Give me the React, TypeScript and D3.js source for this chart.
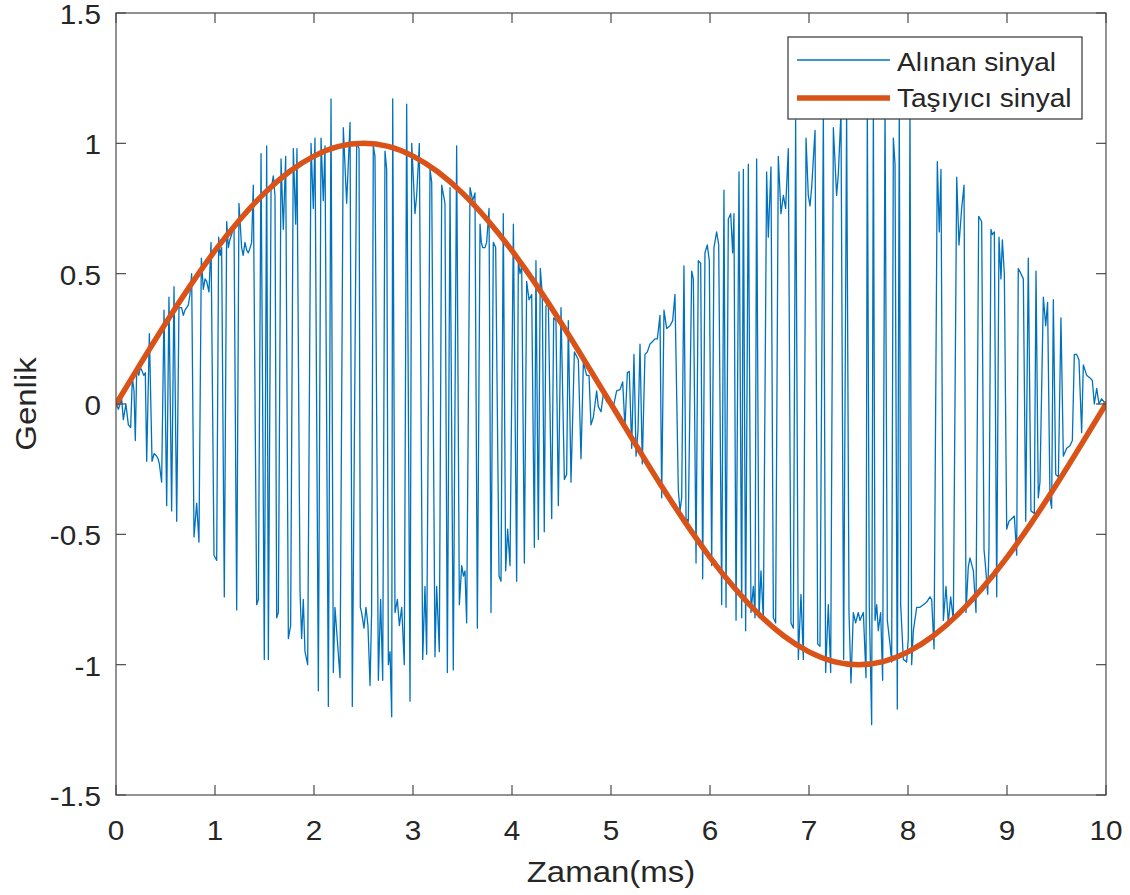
import React from 'react';
import * as d3 from 'd3';

// ---------- data ----------
const xTicks = [0, 1, 2, 3, 4, 5, 6, 7, 8, 9, 10];
const yTicks = [-1.5, -1, -0.5, 0, 0.5, 1, 1.5];
const yTickLabels = ['-1.5', '-1', '-0.5', '0', '0.5', '1', '1.5'];

const carrierTime = [
  0, 0.25, 0.5, 0.75, 1, 1.25, 1.5, 1.75, 2, 2.25, 2.5, 2.75, 3, 3.25, 3.5, 3.75, 4, 4.25, 4.5, 4.75, 5,
  5.25, 5.5, 5.75, 6, 6.25, 6.5, 6.75, 7, 7.25, 7.5, 7.75, 8, 8.25, 8.5, 8.75, 9, 9.25, 9.5, 9.75, 10,
];
const carrierAmp = [
  0, 0.156, 0.309, 0.454, 0.588, 0.707, 0.809, 0.891, 0.951, 0.988, 1.0, 0.988, 0.951, 0.891, 0.809, 0.707,
  0.588, 0.454, 0.309, 0.156, 0, -0.156, -0.309, -0.454, -0.588, -0.707, -0.809, -0.891, -0.951, -0.988, -1.0,
  -0.988, -0.951, -0.891, -0.809, -0.707, -0.588, -0.454, -0.309, -0.156, 0,
];

const receivedSignal: [number, number][] = [
  [0, 0], [0.024, -0.02], [0.057, 0.02], [0.074, -0.06], [0.1, 0.0], [0.125, -0.08], [0.148, -0.09], [0.165, 0.1],
  [0.182, 0.05], [0.195, -0.14], [0.209, 0.13], [0.23, 0.11], [0.245, 0.14], [0.259, 0.13], [0.28, 0.11], [0.296, 0.12],
  [0.31, -0.22], [0.337, 0.27], [0.364, -0.22], [0.385, -0.19], [0.41, -0.2], [0.425, -0.21], [0.438, -0.23],
  [0.461, -0.3], [0.485, 0.36], [0.512, -0.39], [0.535, 0.41], [0.562, -0.41], [0.586, 0.45], [0.613, -0.45],
  [0.636, 0.37], [0.663, 0.37], [0.68, 0.34], [0.697, 0.36], [0.731, 0.38], [0.747, 0.42], [0.764, 0.5],
  [0.788, -0.51], [0.815, -0.38], [0.838, -0.53], [0.862, 0.56], [0.882, 0.44], [0.9, 0.48], [0.916, 0.47],
  [0.939, 0.43], [0.96, 0.62], [0.99, -0.58], [1.017, -0.6], [1.037, 0.64], [1.052, 0.57], [1.067, 0.6],
  [1.094, -0.74], [1.118, 0.7], [1.135, 0.6], [1.15, 0.63], [1.168, 0.65], [1.192, 0.69],
  [1.219, -0.79], [1.242, 0.77], [1.269, 0.6], [1.285, 0.57], [1.303, 0.62], [1.32, 0.59], [1.337, 0.58],
  [1.355, 0.6], [1.37, 0.62], [1.387, 0.84], [1.421, -0.77], [1.438, -0.75], [1.465, 0.96], [1.498, -0.98],
  [1.522, 0.99], [1.539, -0.98], [1.566, 0.82], [1.589, 0.875], [1.606, 0.8], [1.623, -0.82], [1.64, -0.8],
  [1.667, 0.94], [1.69, 0.67], [1.714, 0.95], [1.741, -0.9], [1.764, -0.85], [1.791, 0.98], [1.815, 0.69],
  [1.828, 0.98], [1.859, -0.72], [1.875, -0.9], [1.892, -0.75], [1.909, -0.95], [1.936, -1.0], [1.97, 1.0],
  [1.993, 0.75], [2.01, 1.02], [2.044, -1.1], [2.071, 1.02], [2.094, 0.78], [2.111, 0.99], [2.145, -1.16],
  [2.172, 1.17], [2.195, -1.03], [2.212, -0.78], [2.229, -0.87], [2.263, -1.05], [2.296, 1.06], [2.33, 0.77],
  [2.364, 1.08], [2.387, -1.16], [2.431, 1.0], [2.455, 0.98], [2.468, -0.78],
  [2.481, -0.8], [2.505, -0.86], [2.525, -0.78], [2.545, -0.85], [2.566, -1.08], [2.582, -0.8], [2.599, 0.99],
  [2.616, 0.95], [2.65, -1.06], [2.673, -0.75], [2.694, -1.06], [2.717, 0.97], [2.734, 0.9], [2.751, -1.0],
  [2.768, -0.95], [2.785, -1.2], [2.795, 1.17], [2.818, -0.8], [2.842, -0.75], [2.862, -0.85], [2.886, -0.78],
  [2.912, -1.0], [2.936, 1.15], [2.97, -1.14], [2.987, 1.0], [3.02, 0.73], [3.037, 0.8], [3.064, 1.0],
  [3.098, -0.98], [3.121, -0.7], [3.138, -0.96], [3.172, 0.9], [3.189, 0.85], [3.222, -0.97], [3.239, -0.7],
  [3.266, -0.95], [3.29, 0.84], [3.323, 0.77], [3.347, -1.03], [3.374, 0.83], [3.407, -1.02], [3.441, 0.99],
  [3.468, -0.77], [3.492, -0.62], [3.51, -0.66], [3.525, -0.64], [3.542, -0.84], [3.576, 0.83], [3.603, 0.78],
  [3.626, 0.81], [3.65, -0.86], [3.677, 0.69], [3.69, 0.62], [3.704, 0.6],
  [3.727, 0.6], [3.744, 0.62], [3.768, 0.75], [3.788, -0.8], [3.811, 0.62], [3.835, 0.6], [3.869, -0.66],
  [3.889, -0.68], [3.912, 0.73], [3.936, -0.64], [3.956, -0.48], [3.98, -0.62], [4.014, 0.69], [4.047, -0.68],
  [4.064, 0.55], [4.081, 0.5], [4.098, 0.53], [4.125, -0.61], [4.148, 0.47], [4.172, 0.4], [4.199, 0.42],
  [4.226, -0.55], [4.242, 0.55], [4.266, -0.52], [4.286, 0.52], [4.306, 0.42], [4.326, -0.49], [4.343, 0.375],
  [4.367, 0.39], [4.401, -0.44], [4.421, 0.33], [4.444, 0.32], [4.468, -0.39], [4.495, 0.37], [4.529, -0.29],
  [4.552, -0.27], [4.569, 0.32], [4.596, -0.3], [4.63, 0.2], [4.67, 0.17], [4.697, -0.21], [4.721, 0.16],
  [4.754, 0.11], [4.778, 0.11], [4.798, -0.08], [4.822, -0.05], [4.855, 0.05], [4.872, -0.01], [4.899, -0.03],
  [4.923, 0.04], [4.956, 0.01], [4.99, 0.0],
  [5.024, -0.01], [5.057, 0.05], [5.091, 0.055], [5.118, 0.085], [5.141, -0.09], [5.165, 0.12], [5.185, 0.125],
  [5.209, -0.17], [5.232, 0.19], [5.253, -0.2], [5.273, -0.1], [5.293, 0.23], [5.316, -0.23], [5.343, 0.19],
  [5.367, 0.2], [5.394, 0.23], [5.42, 0.24], [5.444, 0.25], [5.468, 0.25], [5.495, 0.34], [5.512, -0.36],
  [5.535, 0.36], [5.562, 0.29], [5.596, 0.3], [5.623, 0.32], [5.646, 0.42], [5.68, -0.33], [5.697, -0.41],
  [5.714, -0.36], [5.737, 0.53], [5.758, -0.44], [5.781, -0.45], [5.815, 0.51], [5.832, 0.48], [5.859, -0.61],
  [5.882, 0.55], [5.906, 0.54], [5.926, -0.67], [5.949, 0.58], [5.973, 0.61], [5.993, 0.55], [6.017, -0.62],
  [6.04, 0.6], [6.067, 0.66], [6.088, 0.61], [6.118, -0.77], [6.141, 0.82], [6.162, -0.78], [6.185, 0.71],
  [6.209, 0.73], [6.229, 0.58], [6.242, 0.73],
  [6.263, -0.83], [6.293, 0.89], [6.32, -0.82], [6.337, 0.9], [6.36, -0.87], [6.387, 0.92], [6.414, -0.8],
  [6.438, -0.7], [6.455, -0.82], [6.471, 0.94], [6.495, -0.82], [6.515, -0.64], [6.539, -0.83], [6.572, 0.89],
  [6.589, 0.64], [6.616, 0.91], [6.64, -0.82], [6.663, -0.84], [6.69, 0.95], [6.717, 0.73], [6.741, 0.8],
  [6.764, 0.75], [6.791, 0.98], [6.818, -0.84], [6.842, -0.86], [6.865, 1.09], [6.892, -0.98], [6.919, -0.73],
  [6.943, -0.98], [6.97, 1.02], [6.993, 0.8], [7.01, 0.76], [7.027, 0.83], [7.061, 1.05], [7.088, -0.92],
  [7.111, -0.93], [7.145, 1.12], [7.168, -1.03], [7.195, -0.77], [7.219, -1.03], [7.246, 1.06], [7.279, 0.8],
  [7.296, 0.88], [7.323, 1.12], [7.35, -0.98], [7.38, 1.12], [7.404, -0.8], [7.424, -1.07], [7.448, -0.8],
  [7.471, -0.84], [7.498, -0.8],
  [7.515, -0.83], [7.549, -0.8], [7.576, -1.05], [7.589, 1.15], [7.609, -0.78], [7.633, -1.23], [7.65, 1.15],
  [7.667, -0.83], [7.684, -0.77], [7.7, -0.87], [7.724, -0.8], [7.744, -1.06], [7.768, 1.15], [7.791, -0.83],
  [7.818, -0.92], [7.835, -0.99], [7.852, 1.02], [7.869, 0.92], [7.892, -1.17], [7.912, 1.15], [7.926, -0.77],
  [7.953, -0.98], [7.986, -0.99], [8.003, -0.9], [8.02, 1.15], [8.037, -1.0], [8.054, -0.87], [8.088, -0.78],
  [8.121, -0.78], [8.155, -0.77], [8.189, -0.76], [8.222, -0.74], [8.239, -0.75], [8.263, -0.94], [8.296, 0.93],
  [8.316, 0.66], [8.333, 0.9], [8.357, -0.83], [8.384, -0.7], [8.407, -0.84], [8.431, -0.74], [8.458, -0.83],
  [8.492, 0.87], [8.515, 0.61], [8.542, 0.75], [8.566, 0.84], [8.586, -0.8], [8.609, -0.625], [8.626, -0.59],
  [8.66, -0.64], [8.687, -0.8], [8.714, 0.72], [8.744, 0.7], [8.768, -0.56],
  [8.778, -0.6], [8.805, -0.73], [8.818, -0.55], [8.838, 0.67], [8.852, 0.65], [8.872, 0.66], [8.896, -0.74],
  [8.919, 0.64], [8.939, 0.48], [8.953, 0.63], [8.973, 0.5], [8.997, -0.48], [9.02, -0.45], [9.047, -0.44],
  [9.074, -0.43], [9.098, -0.58], [9.114, 0.52], [9.141, 0.5], [9.165, 0.48], [9.189, -0.45], [9.215, 0.56],
  [9.242, -0.41], [9.276, -0.42], [9.293, 0.51], [9.316, -0.36], [9.333, -0.3], [9.367, 0.41], [9.391, 0.3],
  [9.41, 0.39], [9.434, -0.36], [9.451, -0.4], [9.468, 0.4], [9.492, -0.27], [9.519, -0.28], [9.545, 0.33],
  [9.569, -0.2], [9.603, -0.17], [9.636, -0.16], [9.66, -0.14], [9.68, 0.19], [9.704, 0.19], [9.727, 0.17],
  [9.754, -0.11], [9.771, 0.15], [9.805, 0.11], [9.838, 0.1], [9.862, 0.09], [9.882, 0.0], [9.906, 0.06],
  [9.929, 0.0], [9.956, 0.02], [9.997, 0.0],
];

const legendLabels = ['Alınan sinyal', 'Taşıyıcı sinyal'];
const xLabel = 'Zaman(ms)';
const yLabel = 'Genlik';

// ---------- styles ----------
const BLUE = '#0072BD';
const ORANGE = '#D95319';
const AXIS = '#4a4a4a';
const FONT = "'Liberation Sans', Arial, Helvetica, sans-serif";
const STRETCH = 1.1;

function T(props: {
  x: number; y: number; size: number; anchor?: string; rotate?: number; children: React.ReactNode;
}) {
  const { x, y, size, anchor = 'start', rotate = 0, children } = props;
  return (
    <text
      transform={`translate(${x},${y}) rotate(${rotate}) scale(${STRETCH},1)`}
      fontFamily={FONT}
      fontSize={size}
      textAnchor={anchor}
      fill="#262626"
    >
      {children}
    </text>
  );
}

export default function App() {
  const W = 1130;
  const H = 895;
  const left = 116, right = 1106, top = 13, bottom = 795;
  const x = d3.scaleLinear().domain([0, 10]).range([left, right]);
  const y = d3.scaleLinear().domain([-1.5, 1.5]).range([bottom, top]);

  const sigLine = d3.line<[number, number]>().x((d) => x(d[0])).y((d) => y(d[1]));
  const carrier: [number, number][] = carrierTime.map((t, i) => [t, carrierAmp[i]]);
  const carLine = d3
    .line<[number, number]>()
    .x((d) => x(d[0]))
    .y((d) => y(d[1]))
    .curve(d3.curveNatural);

  const tickLen = 10;
  const lg = { x: 788, y: 37, w: 294, h: 82 };

  return (
    <svg
      width={W}
      height={H}
      style={{ position: 'absolute', left: 0, top: 0, background: '#fff' }}
    >
      <rect x={0} y={0} width={W} height={H} fill="#fff" />
      <defs>
        <clipPath id="plotClip">
          <rect x={left} y={top} width={right - left} height={bottom - top} />
        </clipPath>
      </defs>

      <g clipPath="url(#plotClip)">
        <path d={sigLine(receivedSignal) || ''} fill="none" stroke={BLUE} strokeWidth={1.3} strokeLinejoin="round" />
        <path d={carLine(carrier) || ''} fill="none" stroke={ORANGE} strokeWidth={5.5} strokeLinecap="round" />
      </g>

      {/* axes box */}
      <rect x={left} y={top} width={right - left} height={bottom - top} fill="none" stroke={AXIS} strokeWidth={1.2} />
      {xTicks.map((t) => (
        <g key={'xt' + t}>
          <line x1={x(t)} x2={x(t)} y1={bottom} y2={bottom - tickLen} stroke={AXIS} strokeWidth={1.2} />
          <line x1={x(t)} x2={x(t)} y1={top} y2={top + tickLen} stroke={AXIS} strokeWidth={1.2} />
          <T x={x(t)} y={840} size={27} anchor="middle">{String(t)}</T>
        </g>
      ))}
      {yTicks.map((v, i) => (
        <g key={'yt' + v}>
          <line x1={left} x2={left + tickLen} y1={y(v)} y2={y(v)} stroke={AXIS} strokeWidth={1.2} />
          <line x1={right} x2={right - tickLen} y1={y(v)} y2={y(v)} stroke={AXIS} strokeWidth={1.2} />
          <T x={101} y={y(v) + 11} size={27} anchor="end">{yTickLabels[i]}</T>
        </g>
      ))}

      <T x={x(5)} y={882} size={30} anchor="middle">{xLabel}</T>
      <T x={36} y={y(0)} size={30} anchor="middle" rotate={-90}>{yLabel}</T>

      {/* legend */}
      <rect x={lg.x} y={lg.y} width={lg.w} height={lg.h} fill="#fff" stroke="#333" strokeWidth={1.2} />
      <line x1={797} x2={890} y1={60} y2={60} stroke={BLUE} strokeWidth={1.3} />
      <line x1={797} x2={890} y1={98} y2={98} stroke={ORANGE} strokeWidth={5.5} />
      <T x={897} y={71} size={25.5}>{legendLabels[0]}</T>
      <T x={897} y={107} size={25.5}>{legendLabels[1]}</T>
    </svg>
  );
}
